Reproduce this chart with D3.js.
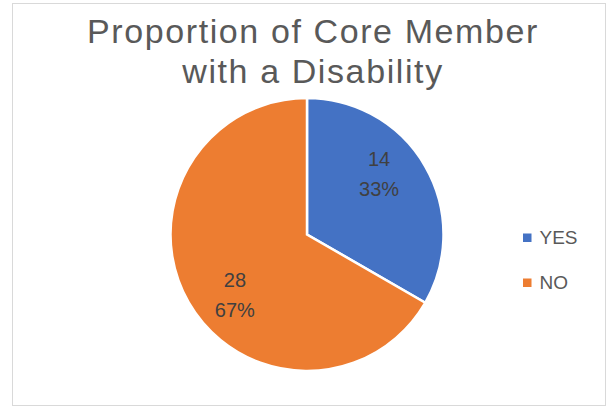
<!DOCTYPE html>
<html><head><meta charset="utf-8">
<script src="https://cdn.jsdelivr.net/npm/d3@7"></script>
<style>body{margin:0;background:#fff}svg{display:block}</style>
</head><body>
<svg id="c" width="609" height="407"></svg>
<script>
const categories = ["YES", "NO"];
const values = [14, 28];
const percents = ["33%", "67%"];
const colors = ["#4472C4", "#ED7D31"];
const titleLines = ["Proportion of Core Member", "with a Disability"];

const svg = d3.select("#c");
svg.append("rect").attr("x", 12.5).attr("y", 3.5).attr("width", 593).attr("height", 402)
  .attr("fill", "#fff").attr("stroke", "#d9d9d9").attr("stroke-width", 1);

svg.append("g").selectAll("text").data(titleLines).join("text")
  .attr("x", 313).attr("y", (d, i) => 42.5 + i * 40)
  .attr("text-anchor", "middle").attr("font-family", "Liberation Sans, Arial, sans-serif")
  .attr("font-size", 34).attr("letter-spacing", 1.6).attr("fill", "#595959").text(d => d);

const cx = 307, cy = 234.5, r = 136.5;
const pie = d3.pie().sort(null).value(d => d)(values);
const arc = d3.arc().innerRadius(0).outerRadius(r);
const g = svg.append("g").attr("transform", `translate(${cx},${cy})`);
g.selectAll("path").data(pie).join("path")
  .attr("d", arc).attr("fill", (d, i) => colors[i])
  .attr("stroke", "#fff").attr("stroke-width", 2.5).attr("stroke-linejoin", "miter");

const lab = g.selectAll("g.lab").data(pie).join("g").attr("class", "lab")
  .attr("transform", d => {
    const a = (d.startAngle + d.endAngle) / 2;
    return `translate(${Math.sin(a) * 0.61 * r},${-Math.cos(a) * 0.88 * r})`;
  });
lab.append("text").attr("text-anchor", "middle").attr("y", -8)
  .attr("font-family", "Liberation Sans, Arial, sans-serif").attr("font-size", 20).attr("fill", "#404040")
  .text((d, i) => values[i]);
lab.append("text").attr("text-anchor", "middle").attr("y", 22)
  .attr("font-family", "Liberation Sans, Arial, sans-serif").attr("font-size", 20).attr("fill", "#404040")
  .text((d, i) => percents[i]);

const leg = svg.append("g").selectAll("g").data(categories).join("g")
  .attr("transform", (d, i) => `translate(523,${233.5 + i * 45})`);
leg.append("rect").attr("width", 8.5).attr("height", 8.5).attr("fill", (d, i) => colors[i]);
leg.append("text").attr("x", 16.5).attr("y", 10.5).attr("font-family", "Liberation Sans, Arial, sans-serif")
  .attr("font-size", 19).attr("fill", "#595959").text(d => d);
</script>
</body></html>
